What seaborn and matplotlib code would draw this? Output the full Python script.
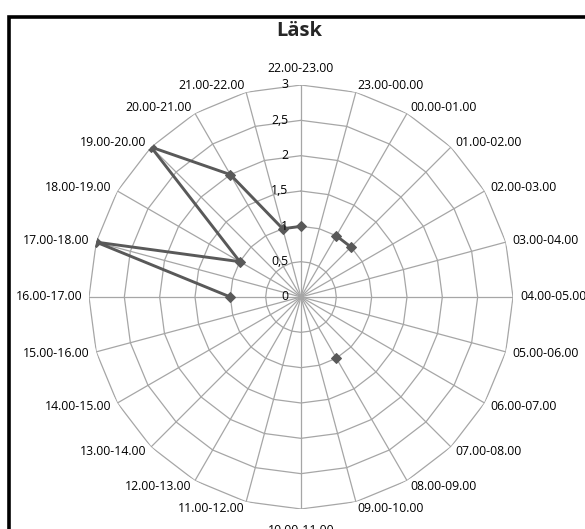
import numpy as np
import pandas as pd
import seaborn as sns
import matplotlib
matplotlib.use("Agg")
import matplotlib.pyplot as plt
from matplotlib.patches import Rectangle
from matplotlib.transforms import offset_copy

# categories clockwise from the top, as in the Excel radar
hours = ["22.00-23.00", "23.00-00.00", "00.00-01.00", "01.00-02.00",
         "02.00-03.00", "03.00-04.00", "04.00-05.00", "05.00-06.00",
         "06.00-07.00", "07.00-08.00", "08.00-09.00", "09.00-10.00",
         "10.00-11.00", "11.00-12.00", "12.00-13.00", "13.00-14.00",
         "14.00-15.00", "15.00-16.00", "16.00-17.00", "17.00-18.00",
         "18.00-19.00", "19.00-20.00", "20.00-21.00", "21.00-22.00"]
values = [1, np.nan, 1, 1, np.nan, np.nan, np.nan, np.nan, np.nan, np.nan,
          1, np.nan, np.nan, np.nan, np.nan, np.nan, np.nan, np.nan,
          1, 3, 1, 3, 2, 1]
ring_values = [0, 0.5, 1, 1.5, 2, 2.5, 3]
ring_labels = ["0", "0,5", "1", "1,5", "2", "2,5", "3"]
title = "Läsk"

sns.set_style("white")
plt.rcParams["font.family"] = ["Open Sans", "DejaVu Sans"]

n = len(hours)
theta = np.linspace(0, 2 * np.pi, n, endpoint=False)

# split into contiguous runs (Excel leaves gaps for blanks, closes the loop)
rows = []
seg = 0
prev_ok = False
for i in range(n):
    ok = not np.isnan(values[i])
    if ok:
        if not prev_ok:
            seg += 1
        rows.append((theta[i], values[i], seg))
    prev_ok = ok
df = pd.DataFrame(rows, columns=["theta", "value", "seg"])
# close the loop: last run continues into the first
if not np.isnan(values[-1]) and not np.isnan(values[0]):
    first = df["seg"] == df["seg"].min()
    last_seg = df["seg"].max()
    wrap = df[first].copy()
    wrap["theta"] = wrap["theta"] + 2 * np.pi
    wrap["seg"] = last_seg
    df = pd.concat([df[~first], wrap], ignore_index=True)

fig = plt.figure(figsize=(5.85, 5.29), dpi=100)
ax = fig.add_axes([89 / 585, 20 / 529, 424 / 585, 424 / 529], projection="polar")
ax.set_theta_zero_location("N")
ax.set_theta_direction(-1)
ax.grid(False)
ax.spines["polar"].set_visible(False)

grid_col = "#a6a6a6"
closed = np.append(theta, theta[0])
for r in ring_values[1:]:
    ax.plot(closed, np.full(len(closed), r), color=grid_col, lw=0.9, zorder=1)
for t in theta:
    ax.plot([t, t], [0, ring_values[-1]], color=grid_col, lw=0.9, zorder=1)

sns.lineplot(data=df, x="theta", y="value", units="seg", estimator=None,
             sort=False, color="#595959", lw=2.1, marker="D", markersize=5.5,
             markeredgecolor="#595959", ax=ax, zorder=3)

ax.set_xlim(0, 2 * np.pi)
ax.set_ylim(0, ring_values[-1])
ax.set_xticks([])
ax.set_yticks([])
ax.set_xlabel("")
ax.set_ylabel("")

for r, lab in zip(ring_values, ring_labels):
    tr = offset_copy(ax.transData, fig=fig, x=-13, y=0, units="dots")
    ax.text(0, r, lab, transform=tr, ha="right", va="center", fontsize=8.8,
            color="#000000", zorder=4)

for t, lab in zip(theta, hours):
    s, c = np.sin(t), np.cos(t)
    if abs(s) < 0.1:
        d = 17 if c > 0 else 21
        ha = "center"
    else:
        d = 7
        ha = "left" if s > 0 else "right"
    tr = offset_copy(ax.transData, fig=fig, x=d * s, y=d * c, units="dots")
    ax.text(t, ring_values[-1], lab, transform=tr, ha=ha, va="center",
            fontsize=8.8, color="#000000")

fig.text(299 / 585, 1 - 31 / 529, title, ha="center", va="center",
         fontsize=14.5, fontweight="bold")

fig.add_artist(Rectangle((9.2 / 585, -0.2), 1.5, 0.2 + (1 - 16.5 / 529),
                         transform=fig.transFigure, fill=False,
                         ec="black", lw=2.6))

fig.savefig("out.png", dpi=100)
